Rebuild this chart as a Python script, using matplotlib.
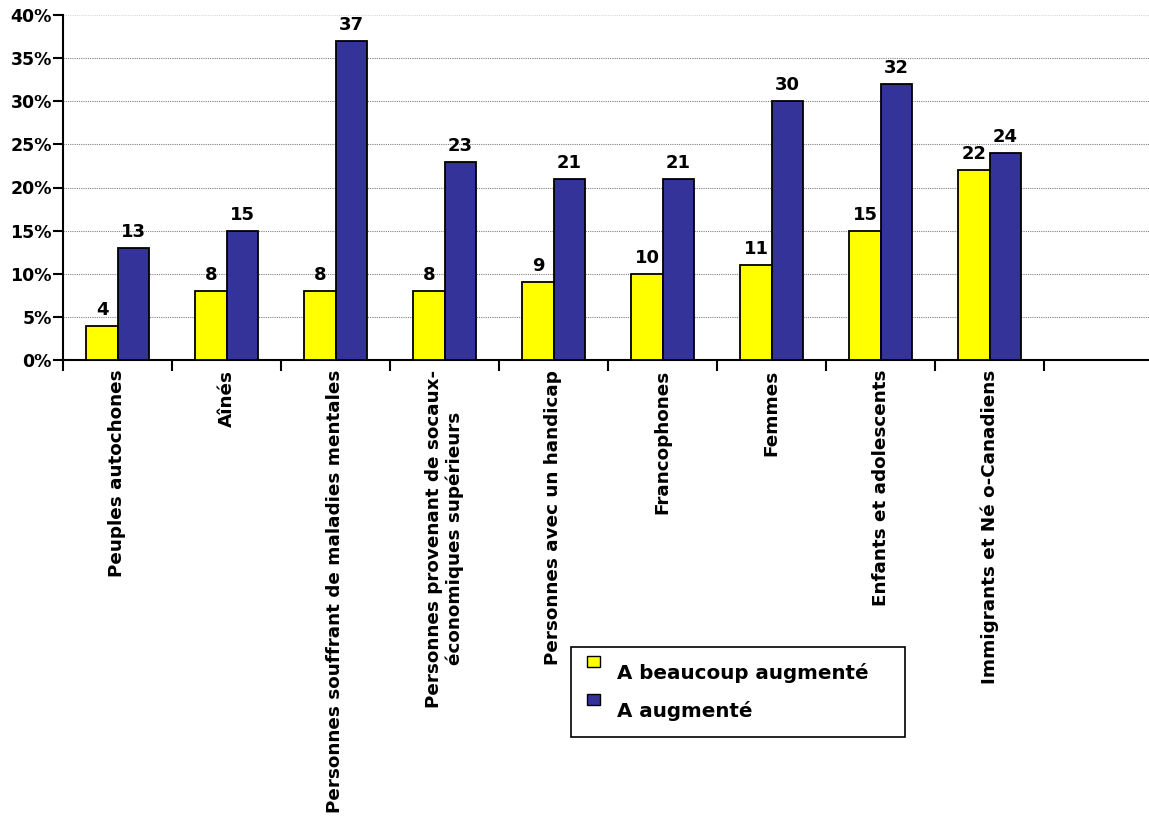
import matplotlib
matplotlib.use("Agg")
import matplotlib.pyplot as plt
import matplotlib.patches as mpatches
from matplotlib.container import BarContainer
from matplotlib.legend_handler import HandlerPatch, update_from_first_child
from matplotlib.ticker import FuncFormatter
import numpy as np

# données
categories = [
    "Peuples autochones",
    "Aînés",
    "Personnes souffrant de maladies mentales",
    "Personnes provenant de socaux-\néconomiques supérieurs",
    "Personnes avec un handicap",
    "Francophones",
    "Femmes",
    "Enfants et adolescents",
    "Immigrants et Né o-Canadiens",
]
beaucoup = [4, 8, 8, 8, 9, 10, 11, 15, 22]
augmente = [13, 15, 37, 23, 21, 21, 30, 32, 24]
series_labels = ["A beaucoup augmenté", "A augmenté"]
n_slots = 10

plt.rcParams['font.family'] = ['DejaVu Sans']
plt.rcParams['font.weight'] = 'bold'

fig = plt.figure(figsize=(11.49, 8.16), dpi=100)
ax = fig.add_axes([63 / 1149, 1 - 360 / 816, 1090 / 1149, 345 / 816])

x = np.arange(len(categories)) + 0.5
w = 0.285
b1 = ax.bar(x - w / 2, beaucoup, w, color='#FFFF00', edgecolor='black', linewidth=1.3,
            label=series_labels[0], zorder=3)
b2 = ax.bar(x + w / 2, augmente, w, color='#333399', edgecolor='black', linewidth=1.3,
            label=series_labels[1], zorder=3)

# étiquettes de valeurs
for bars, vals in [(b1, beaucoup), (b2, augmente)]:
    for r, v in zip(bars, vals):
        ax.annotate(str(v), (r.get_x() + r.get_width() / 2, v), xytext=(0, 5),
                    textcoords='offset points', ha='center', va='bottom',
                    fontsize=13, fontweight='bold')

ax.set_xlim(0, n_slots)
ax.set_ylim(0, 40)
ax.set_yticks(range(0, 41, 5))
ax.yaxis.set_major_formatter(FuncFormatter(lambda v, p: f"{int(v)}%"))
ax.tick_params(axis='y', labelsize=12.5, length=7, width=1.5, pad=1)

ax.set_xticks(range(0, n_slots + 1))
ax.set_xticklabels([])
ax.tick_params(axis='x', which='major', length=8, width=1.5, direction='out')
ax.set_xticks(x, minor=True)
ax.set_xticklabels(categories, minor=True, rotation=90, ha='center', va='top',
                   multialignment='center', fontsize=13.2, fontweight='bold')
ax.tick_params(axis='x', which='minor', length=0, pad=7)

ax.yaxis.grid(True, linestyle=(0, (1, 1)), color='#808080', linewidth=0.8, zorder=0)
ax.set_axisbelow(True)
ax.get_ygridlines()[-1].set_color('#d8d8d8')

for s in ['top', 'right']:
    ax.spines[s].set_visible(False)
for s in ['left', 'bottom']:
    ax.spines[s].set_linewidth(1.5)


# carré de légende décalé vers le haut
def shifted_patch(legend, orig_handle, xdescent, ydescent, width, height, fontsize):
    return mpatches.Rectangle((-xdescent, -ydescent + 0.9 * height), width, height)


leg = ax.legend(handles=[b1, b2], loc='upper left', mode='expand',
                bbox_to_anchor=(571 / 1149, 1 - 737 / 816, 334 / 1149, 90 / 816),
                bbox_transform=fig.transFigure,
                frameon=True, fancybox=False, edgecolor='black',
                handlelength=0.65, handleheight=0.5, handletextpad=0.85,
                labelspacing=0.9, borderpad=0.8, borderaxespad=0,
                prop={'weight': 'bold', 'size': 14.3},
                handler_map={BarContainer: HandlerPatch(patch_func=shifted_patch,
                                                        update_func=update_from_first_child)})
leg.get_frame().set_linewidth(1.2)
leg.get_frame().set_alpha(1)
for h in leg.legend_handles:
    h.set_linewidth(1)

fig.savefig("out.png", dpi=100)
